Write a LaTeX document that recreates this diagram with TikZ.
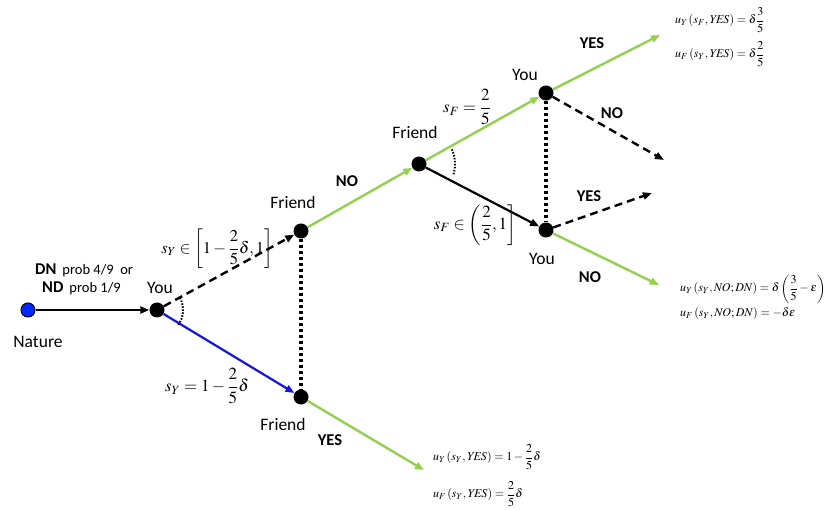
\documentclass[tikz,border=0pt]{standalone}
\usepackage{amsmath}
\usepackage{mathptmx}
\usepackage[no-math]{fontspec}
\setmainfont{Carlito}
\usetikzlibrary{arrows.meta}
\definecolor{ggreen}{RGB}{146,208,80}
\definecolor{bblue}{RGB}{20,20,225}
\definecolor{nblue}{RGB}{0,40,255}
\begin{document}
\begin{tikzpicture}[x=1pt,y=-1pt,
  dot/.style={circle,fill=black,inner sep=0pt,minimum size=15pt},
  natdot/.style={circle,fill=nblue,draw=black,line width=1pt,inner sep=0pt,minimum size=14pt},
  lbl/.style={font=\fontsize{17.5}{20}\selectfont,inner sep=0pt},
  blbl/.style={font=\fontsize{16.5}{19}\selectfont\bfseries,inner sep=0pt},
  mth/.style={font=\fontsize{17}{20}\selectfont,inner sep=0pt},
  pay/.style={font=\fontsize{12}{14}\selectfont,inner sep=0pt,anchor=west},
  tipped/.style={-{Triangle[length=9pt,width=7pt]}},
  solidarrow/.style={tipped,line width=2.2pt},
  greenarrow/.style={tipped,line width=2.4pt,draw=ggreen,color=ggreen},
  dasharrow/.style={tipped,line width=2.4pt,dash pattern=on 8pt off 5pt},
  infoset/.style={line width=4.5pt,dash pattern=on 3.5pt off 2.5pt},
  arcmark/.style={line width=2pt,dash pattern=on 1.5pt off 1.5pt}
]
\useasboundingbox (0,0) rectangle (827,510);

% nodes
\node[natdot] (Nat) at (28,310) {};
\node[dot] (Y1) at (157,310) {};
\node[dot] (FT) at (301,231) {};
\node[dot] (FB) at (301,397) {};
\node[dot] (FM) at (419,164) {};
\node[dot] (YT) at (546,93) {};
\node[dot] (YB) at (546,230) {};
\coordinate (eYES1) at (660,35);
\coordinate (eNO1) at (664,160);
\coordinate (eYES2) at (652,193);
\coordinate (eNO2) at (659,285);
\coordinate (eYES3) at (424,470);

% edges
\draw[solidarrow] (Nat) -- (Y1);
\draw[dasharrow] (Y1) -- (FT);
\draw[solidarrow,draw=bblue,color=bblue] (Y1) -- (FB);
\draw[greenarrow] (FT) -- (FM);
\draw[greenarrow] (FM) -- (YT);
\draw[solidarrow] (FM) -- (YB);
\draw[greenarrow] (YT) -- (eYES1);
\draw[dasharrow] (YT) -- (eNO1);
\draw[dasharrow] (YB) -- (eYES2);
\draw[greenarrow] (YB) -- (eNO2);
\draw[greenarrow] (FB) -- (eYES3);

% information sets
\draw[infoset] (FT) -- (FB);
\draw[infoset] (YT) -- (YB);

% angle marks
\draw[arcmark] ([shift={(-28:26)}]Y1.center) arc[start angle=-28, end angle=38, radius=26];
\draw[arcmark] ([shift={(-24:36)}]FM.center) arc[start angle=-24, end angle=18, radius=36];

% labels
\node[blbl,anchor=west] (dn) at (35,270) {DN\,{\mdseries\fontsize{14.5}{17}\selectfont\ prob 4/9\ \ or}};
\node[blbl,anchor=west] (nd) at (42,288) {ND\,{\mdseries\fontsize{14.5}{17}\selectfont\ prob 1/9}};
\node[lbl] (natl) at (38,342) {Nature};
\node[lbl] (y1l) at (160,288) {You};
\node[lbl] (ftl) at (293,202) {Friend};
\node[lbl] (fml) at (415,132) {Friend};
\node[lbl] (fbl) at (283,424) {Friend};
\node[lbl] (ytl) at (525,75) {You};
\node[lbl] (ybl) at (542,259) {You};
\node[blbl] (no1) at (347,181) {NO};
\node[blbl] (yes1) at (592,43) {YES};
\node[blbl] (no2) at (612,113) {NO};
\node[blbl] (yes2) at (589,196) {YES};
\node[blbl] (no3) at (590,277) {NO};
\node[blbl] (yes3) at (330,440) {YES};

% strategy labels
\node[mth,font=\fontsize{16.5}{19}\selectfont] (sy1) at (217,249) {$s_Y \in \left[1-\dfrac{2}{5}\delta,1\right]$};
\node[mth] (sy2) at (207,386) {$s_Y = 1-\dfrac{2}{5}\delta$};
\node[mth] (sf1) at (467,107) {$s_F = \dfrac{2}{5}$};
\node[mth] (sf2) at (475,225) {$s_F \in \left(\dfrac{2}{5},1\right]$};

% payoffs
\node[pay] (p1) at (675,20) {$u_Y\left(s_F,\mathit{YES}\right)=\delta\dfrac{3}{5}$};
\node[pay] (p2) at (675,54) {$u_F\left(s_Y,\mathit{YES}\right)=\delta\dfrac{2}{5}$};
\node[pay] (p3) at (680,289) {$u_Y\left(s_Y,\mathit{NO};\mathit{DN}\right)=\delta\left(\dfrac{3}{5}-\varepsilon\right)$};
\node[pay] (p4) at (680,314) {$u_F\left(s_Y,\mathit{NO};\mathit{DN}\right)=-\delta\varepsilon$};
\node[pay] (p5) at (433,457) {$u_Y\left(s_Y,\mathit{YES}\right)=1-\dfrac{2}{5}\delta$};
\node[pay] (p6) at (433,494) {$u_F\left(s_Y,\mathit{YES}\right)=\dfrac{2}{5}\delta$};
\end{tikzpicture}
\end{document}
